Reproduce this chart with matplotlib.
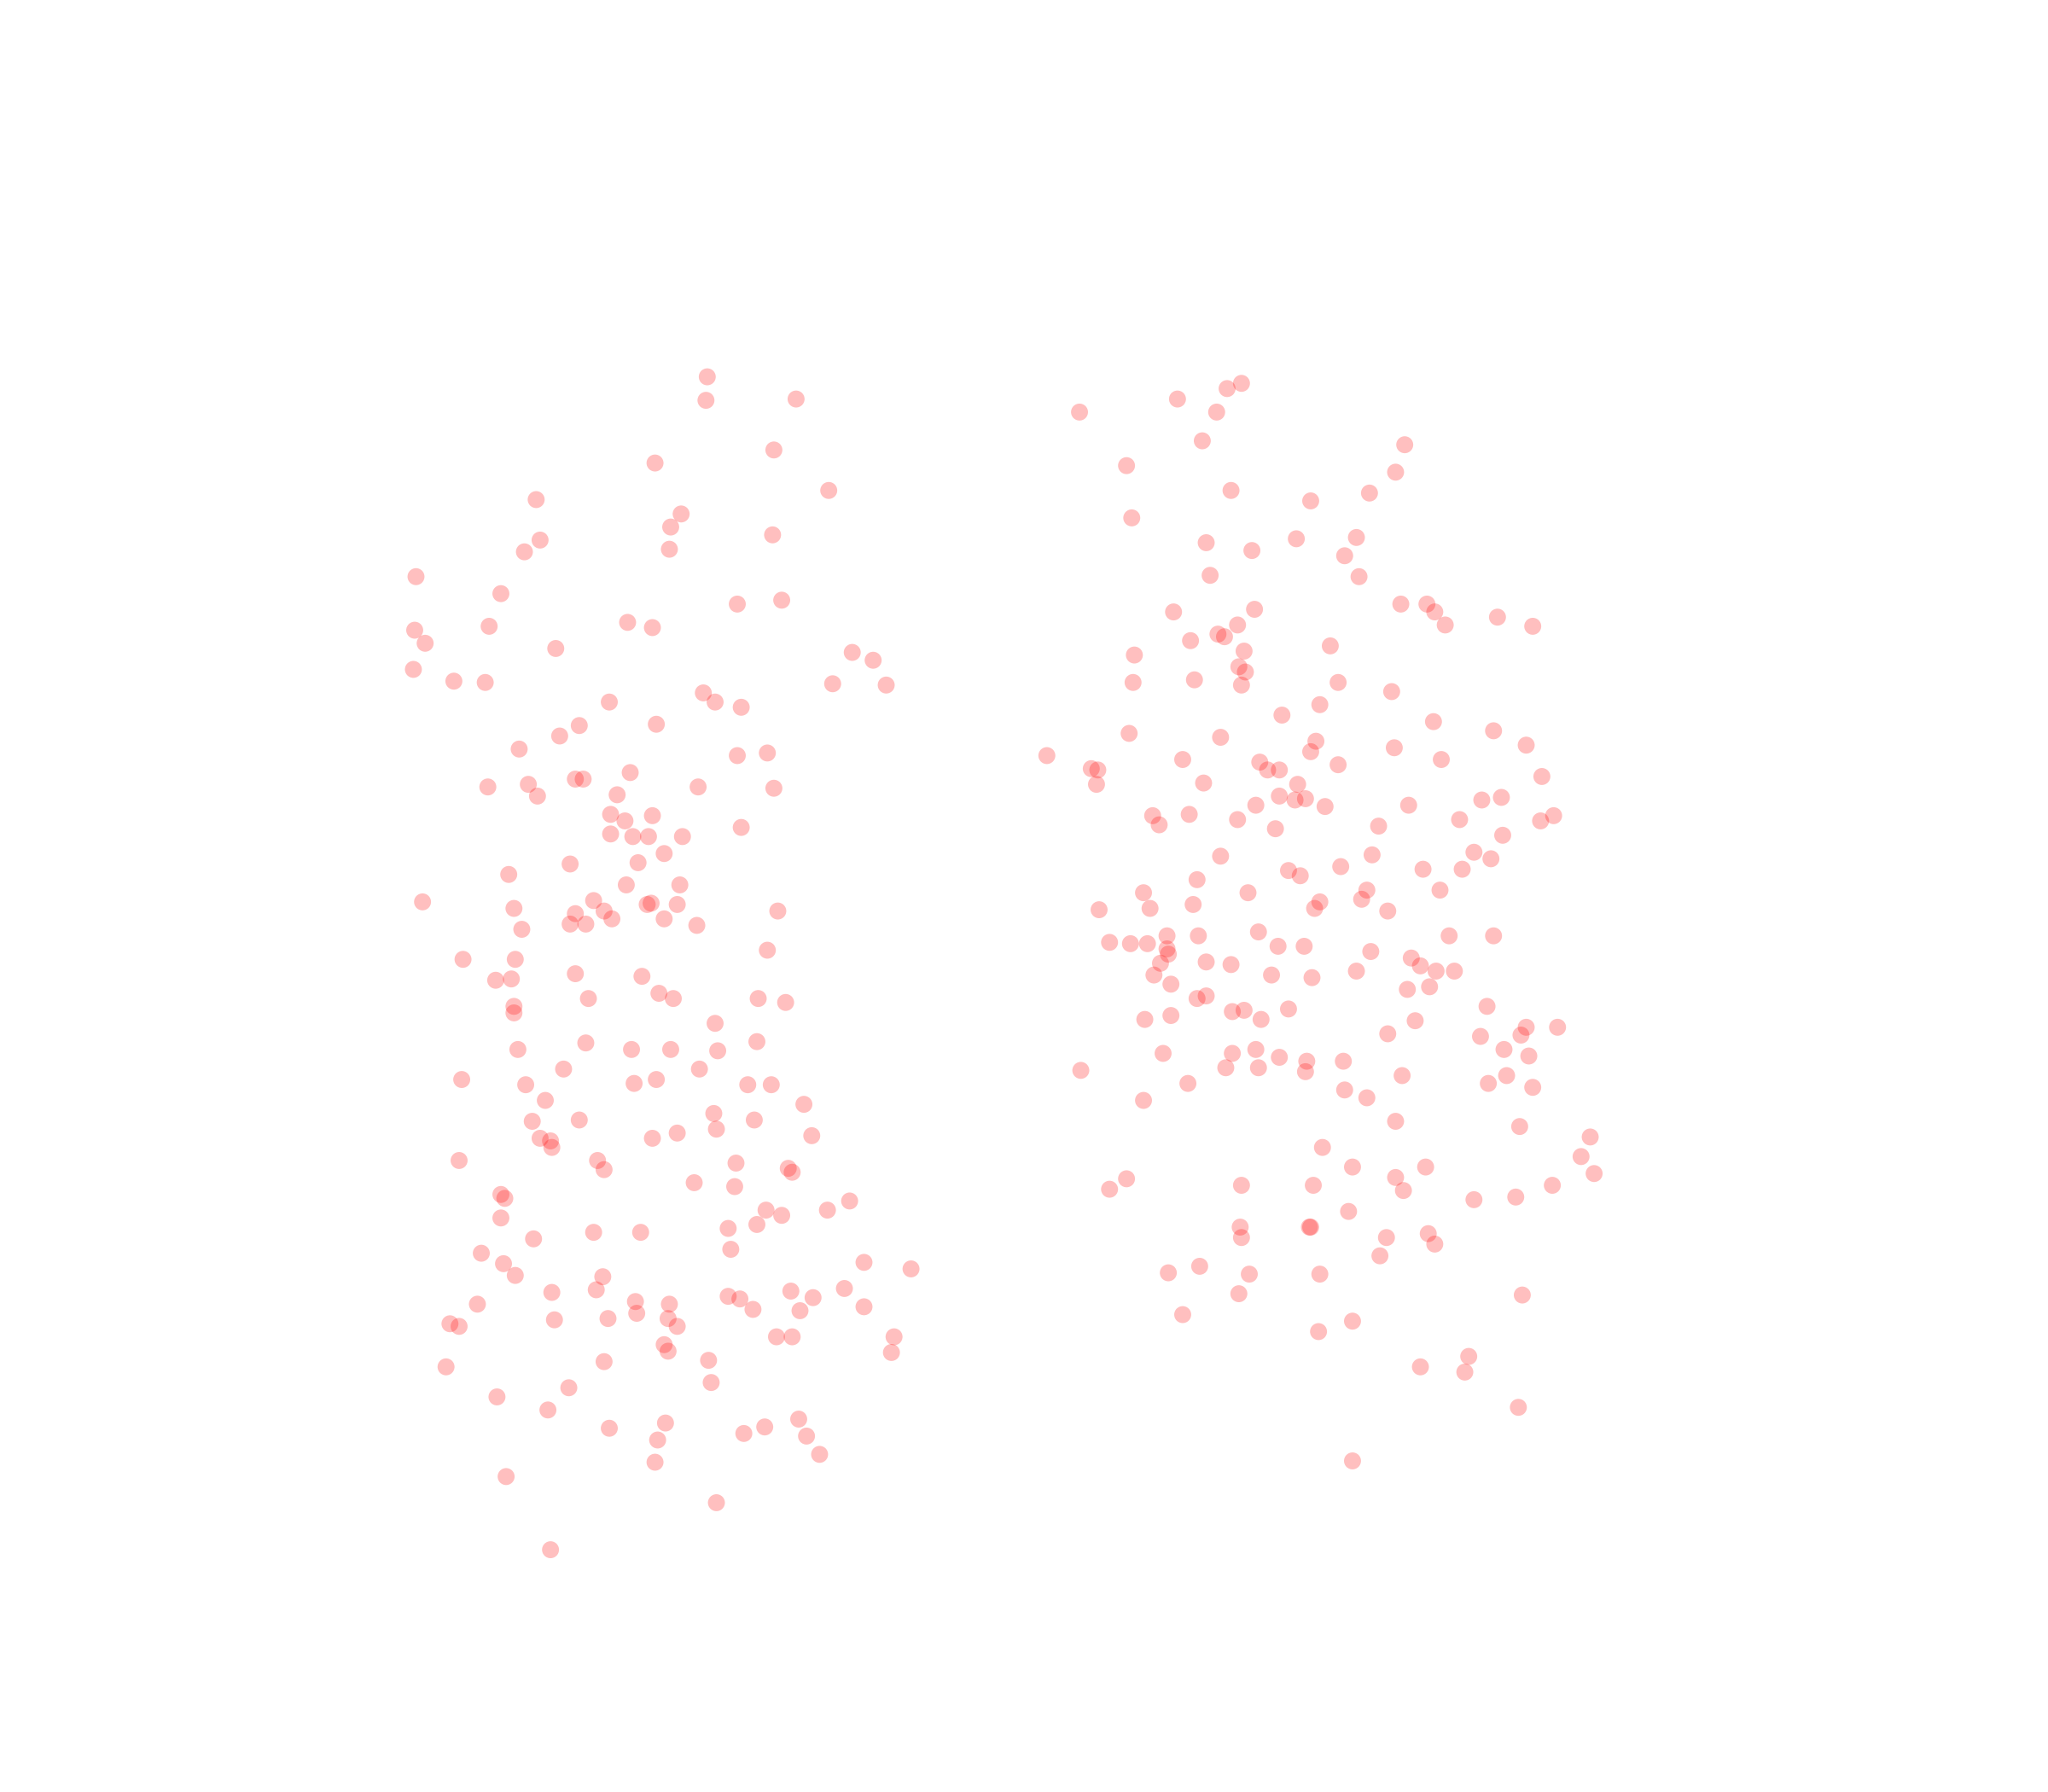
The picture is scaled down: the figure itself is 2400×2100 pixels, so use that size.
import matplotlib
matplotlib.use("Agg")
import matplotlib.pyplot as plt
import numpy as np

left_x = [541,540,609,501,592,410,634,521,513,591,413,401,512,318,383,564,598,480,499,374,317,325,425,652,668,316,347,371,637,678,538,547,466,567,502,443,428,397,564,587,373,404,411,440,446,482,534,592,472,467,478,499,467,484,496,522,567,508,488,436,389,479,520,323,393,454,440,462,495,498,518,595,399,436,448,468,508,533,587,354,394,379,391,440,491,504,515,450,580,601,393,393,547,448,579,396,483,513,549,431,535,353,402,485,502,572,590,417,615,407,443,546,577,548,518,621,413,421,422,499,351,457,462,563,603,606,531,562,383,386,650,633,383,586,598,408,454,490,557,579,368,559,385,661,394,461,697,422,456,557,566,605,622,646,365,486,512,576,612,661,344,351,424,465,487,511,518,684,594,606,508,511,682,341,462,542,544,435,380,419,466,509,585,611,569,617,503,627,501,387,548,421]
left_y = [288,306,305,354,344,382,375,393,403,409,413,422,420,441,454,462,459,476,480,479,482,492,496,499,505,512,521,522,523,524,530,537,537,541,554,555,563,573,578,576,602,600,609,596,596,591,602,603,608,623,628,624,638,640,640,640,633,653,660,661,669,677,677,690,695,689,699,697,692,691,692,697,711,707,707,703,703,708,727,734,734,750,749,745,747,760,764,764,764,767,770,775,783,798,797,803,803,803,804,818,818,826,830,829,826,830,830,842,845,858,857,852,857,864,867,869,871,873,878,871,888,888,895,890,894,897,905,908,914,917,919,926,932,926,930,948,943,943,940,937,959,956,967,966,976,977,971,989,987,992,994,988,993,986,998,996,998,1002,1003,1000,1013,1015,1010,1009,1005,1009,1015,1023,1023,1023,1029,1034,1035,1046,1042,1041,1058,1062,1069,1079,1093,1089,1092,1086,1097,1099,1102,1113,1119,1130,1150,1186]

right_x = [950,939,901,931,826,920,1075,1068,862,942,1048,1003,866,992,1038,923,958,1029,926,1040,898,960,1072,1092,1098,1106,1146,1173,947,932,937,911,952,1018,868,948,953,950,867,914,1024,1065,981,1010,864,934,1097,1143,1168,801,1007,1003,1067,1103,905,964,835,840,970,979,1024,839,921,993,1180,979,991,999,1014,961,1134,1149,882,887,910,947,976,1078,1117,1179,1189,1055,1150,934,1050,1128,1141,986,995,1026,1089,1119,916,875,955,1046,1102,1010,1006,1042,841,880,913,1062,917,893,963,1109,1143,849,865,878,893,894,978,998,1049,888,923,942,1080,1087,1099,1113,883,973,1004,1038,896,1077,1094,916,923,943,952,986,1138,876,896,965,1083,1062,1133,1168,1164,1192,890,943,961,979,1000,1028,1151,1170,827,938,963,999,1073,1153,1029,1139,1173,909,1046,875,1068,1163,1012,1217,1210,1035,1091,862,849,950,1005,1068,1074,1188,1220,1160,1128,1032,949,1003,1002,950,1061,1093,1098,1056,918,894,956,1010,1165,948,905,1035,1009,1124,1087,1121,1162,1035]
right_y = [293,297,305,315,315,337,340,361,356,375,377,383,396,412,411,415,421,425,440,441,468,466,462,462,468,478,472,479,478,485,487,490,498,494,501,510,514,524,522,520,522,529,547,539,561,564,552,559,570,578,567,575,572,581,581,583,588,589,589,589,585,600,599,600,594,609,612,611,617,616,612,610,624,631,623,627,634,616,627,628,624,632,639,655,654,652,657,666,670,663,665,665,673,683,683,681,681,690,695,688,696,695,692,697,716,716,713,716,716,721,722,722,726,730,724,724,728,737,736,738,733,739,743,743,746,746,748,743,753,757,755,764,762,774,773,772,770,780,777,780,781,791,793,786,792,786,806,806,803,809,812,812,803,808,819,817,817,820,823,823,834,829,832,829,840,842,858,862,878,870,885,893,893,902,910,907,907,901,911,907,898,916,918,927,939,939,939,947,947,944,952,961,969,974,975,975,991,990,1006,1011,1019,1038,1046,1050,1077,1118]

fig = plt.figure(figsize=(24, 21), dpi=100)
ax = fig.add_axes([0, 0, 1, 1])
xs = np.array(left_x + right_x)
ys = np.array(left_y + right_y)
ax.scatter(xs, ys, s=205, c="red", alpha=0.25, edgecolors="none")
ax.set_xlim(-0.5, 1567.5)
ax.set_ylim(1371.5, -0.5)
ax.axis("off")
fig.savefig("out.png", dpi=100, facecolor="white")
